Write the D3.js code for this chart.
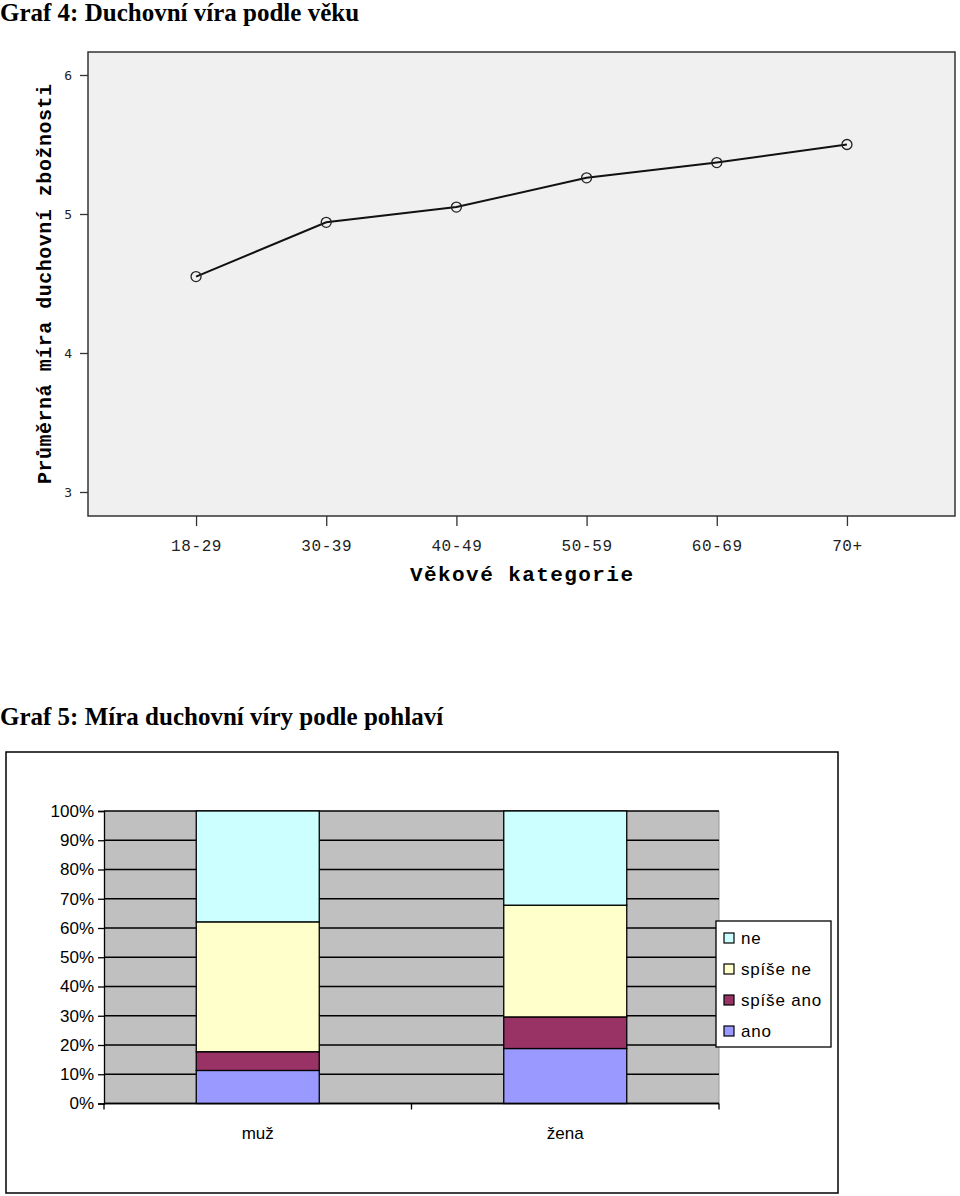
<!DOCTYPE html>
<html><head><meta charset="utf-8">
<script src="https://cdn.jsdelivr.net/npm/d3@7"></script>
<style>
html,body{margin:0;padding:0;background:#fff;}
svg{display:block;}
</style></head>
<body>
<script>
// ---- Graf 4 data ----
const ageCategories = ["18-29","30-39","40-49","50-59","60-69","70+"];
const meanSpirituality = [4.55, 4.94, 5.05, 5.26, 5.37, 5.50];
const yTicks4 = [3,4,5,6];

// ---- Graf 5 data ----
const genders = ["muž","žena"];
const seriesNames = ["ano","spíše ano","spíše ne","ne"];
const ano = [0.113, 0.188];
const spiseAno = [0.064, 0.108];
const spiseNe = [0.444, 0.382];
const ne = [0.379, 0.322];
const seriesColors = ["#9999ff","#993366","#ffffcc","#ccffff"];
const legendOrder = ["ne","spíše ne","spíše ano","ano"];

const svg = d3.select("body").append("svg").attr("width",960).attr("height",1196);

// ================= Graf 4 =================
svg.append("text").attr("x",0).attr("y",21)
  .attr("font-family","'Liberation Serif','Times New Roman',serif")
  .attr("font-weight","bold").attr("font-size",25)
  .text("Graf 4: Duchovní víra podle věku");

const box = {l:88, t:52, r:955, b:516};
svg.append("rect").attr("x",box.l).attr("y",box.t)
  .attr("width",box.r-box.l).attr("height",box.b-box.t)
  .attr("fill","#f0f0f0").attr("stroke","#333").attr("stroke-width",1.5);

const x4 = d3.scalePoint().domain(ageCategories).range([box.l, box.r]).padding(0.83);
const y4 = d3.scaleLinear().domain([3,6]).range([492,75]);

const yAx4 = svg.append("g").attr("transform",`translate(${box.l},0)`)
  .call(d3.axisLeft(y4).tickValues(yTicks4).tickSize(8).tickPadding(8).tickFormat(d3.format("d")));
yAx4.select(".domain").remove();
yAx4.selectAll("line").attr("stroke","#333").attr("stroke-width",1.3);
yAx4.selectAll("text").attr("font-family","'DejaVu Sans Mono',monospace").attr("font-size",13).attr("fill","#222");

const xAx4 = svg.append("g").attr("transform",`translate(0,${box.b})`)
  .call(d3.axisBottom(x4).tickSize(10).tickPadding(14));
xAx4.select(".domain").remove();
xAx4.selectAll("line").attr("stroke","#333").attr("stroke-width",1.3);
xAx4.selectAll("text").attr("font-family","'Liberation Mono','DejaVu Sans Mono',monospace")
  .attr("font-size",16).attr("letter-spacing",0.6).attr("fill","#222");

svg.append("text").attr("x",(box.l+box.r)/2).attr("y",581).attr("text-anchor","middle")
  .attr("font-family","'Liberation Mono','Courier New',monospace").attr("font-weight","bold")
  .attr("font-size",21).attr("textLength",223).attr("lengthAdjust","spacing")
  .text("Věkové kategorie");

svg.append("text").attr("transform",`translate(51,${(box.t+box.b)/2}) rotate(-90)`)
  .attr("text-anchor","middle")
  .attr("font-family","'Liberation Mono','Courier New',monospace").attr("font-weight","bold")
  .attr("font-size",20).attr("textLength",400).attr("lengthAdjust","spacing")
  .text("Průměrná míra duchovní zbožnosti");

const pts = ageCategories.map((c,i)=>({c, v:meanSpirituality[i]}));
svg.append("path").datum(pts)
  .attr("d", d3.line().x(d=>x4(d.c)).y(d=>y4(d.v)))
  .attr("fill","none").attr("stroke","#111").attr("stroke-width",2);
svg.selectAll("circle.pt").data(pts).enter().append("circle").attr("class","pt")
  .attr("cx",d=>x4(d.c)).attr("cy",d=>y4(d.v)).attr("r",5)
  .attr("fill","none").attr("stroke","#222").attr("stroke-width",1.3);

// ================= Graf 5 =================
svg.append("text").attr("x",0).attr("y",725)
  .attr("font-family","'Liberation Serif','Times New Roman',serif")
  .attr("font-weight","bold").attr("font-size",25)
  .text("Graf 5: Míra duchovní víry podle pohlaví");

svg.append("rect").attr("x",6).attr("y",752).attr("width",832).attr("height",441)
  .attr("fill","#fff").attr("stroke","#000").attr("stroke-width",1.5);

const p = {l:104, r:719, t:811, b:1103.5};
const x5 = d3.scaleBand().domain(genders).range([p.l,p.r]).paddingInner(0.6).paddingOuter(0.3);
const y5 = d3.scaleLinear().domain([0,1]).range([p.b,p.t]);

svg.append("rect").attr("x",p.l).attr("y",p.t).attr("width",p.r-p.l).attr("height",p.b-p.t)
  .attr("fill","#c0c0c0");
svg.append("line").attr("x1",p.r).attr("x2",p.r).attr("y1",p.t).attr("y2",p.b)
  .attr("stroke","#999").attr("stroke-width",1);

const pctTicks = d3.range(0,11).map(i=>i/10);
svg.append("g").selectAll("line").data(pctTicks).enter().append("line")
  .attr("x1",p.l).attr("x2",p.r).attr("y1",d=>y5(d)).attr("y2",d=>y5(d))
  .attr("stroke","#000").attr("stroke-width",1.3);

const table = genders.map((g,i)=>({g, "ano":ano[i], "spíše ano":spiseAno[i], "spíše ne":spiseNe[i], "ne":ne[i]}));
const stack = d3.stack().keys(seriesNames)(table);
const color = d3.scaleOrdinal().domain(seriesNames).range(seriesColors);

svg.append("g").selectAll("g").data(stack).enter().append("g")
  .attr("fill",d=>color(d.key))
  .selectAll("rect").data(d=>d).enter().append("rect")
  .attr("x",d=>x5(d.data.g)).attr("width",x5.bandwidth())
  .attr("y",d=>y5(d[1])).attr("height",d=>y5(d[0])-y5(d[1]))
  .attr("stroke","#000").attr("stroke-width",1.3);

const yAx5 = svg.append("g").attr("transform",`translate(${p.l},0)`)
  .call(d3.axisLeft(y5).tickValues(pctTicks).tickSize(6).tickPadding(4).tickFormat(d3.format(".0%")));
yAx5.select(".domain").attr("stroke","#000").attr("stroke-width",1.3);
yAx5.selectAll("line").attr("stroke","#000").attr("stroke-width",1.3);
yAx5.selectAll("text").attr("font-family","'Liberation Sans',Arial,sans-serif").attr("font-size",17).attr("fill","#000");

const xAx5 = svg.append("g").attr("transform",`translate(0,${p.b})`);
xAx5.append("line").attr("x1",p.l).attr("x2",p.r).attr("stroke","#000").attr("stroke-width",1.3);
const boundaries = [p.l, (x5(genders[0])+x5.bandwidth()+x5(genders[1]))/2, p.r];
xAx5.selectAll("line.t").data(boundaries).enter().append("line").attr("class","t")
  .attr("x1",d=>d).attr("x2",d=>d).attr("y1",0).attr("y2",6).attr("stroke","#000").attr("stroke-width",1.3);
xAx5.selectAll("text").data(genders).enter().append("text")
  .attr("x",d=>x5(d)+x5.bandwidth()/2).attr("y",35).attr("text-anchor","middle")
  .attr("font-family","'Liberation Sans',Arial,sans-serif").attr("font-size",17)
  .text(d=>d);

// legend
const lg = svg.append("g").attr("transform","translate(716,921)");
lg.append("rect").attr("width",115).attr("height",126).attr("fill","#fff").attr("stroke","#000").attr("stroke-width",1.3);
const items = lg.selectAll("g").data(legendOrder).enter().append("g")
  .attr("transform",(d,i)=>`translate(8,${17+i*31})`);
items.append("rect").attr("x",0).attr("y",-5).attr("width",10).attr("height",10)
  .attr("fill",d=>color(d)).attr("stroke","#000").attr("stroke-width",1.2);
items.append("text").attr("x",17).attr("y",6)
  .attr("font-family","'Liberation Sans',Arial,sans-serif").attr("font-size",17)
  .attr("letter-spacing",0.8).text(d=>d);
</script>
</body></html>
